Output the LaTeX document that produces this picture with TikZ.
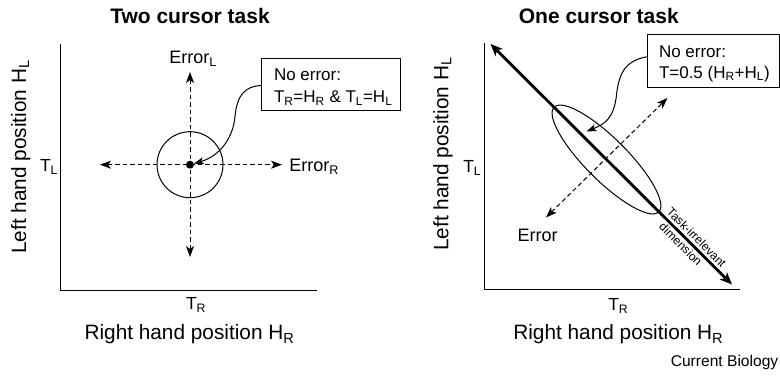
\documentclass[tikz,border=0pt]{standalone}
\usepackage{fontspec}
\setmainfont{Liberation Sans}
\usetikzlibrary{arrows.meta}
\begin{document}
\begin{tikzpicture}[x=1pt,y=-1pt,
  every node/.style={inner sep=0pt, outer sep=0pt},
  titletxt/.style={font=\fontsize{21}{25}\selectfont\bfseries},
  axlab/.style={font=\fontsize{20.8}{25}\selectfont},
  tlab/.style={font=\fontsize{17.5}{21}\selectfont},
  errlab/.style={font=\fontsize{18}{21}\selectfont},
  boxtxt/.style={font=\fontsize{17}{20}\selectfont},
  smalltxt/.style={font=\fontsize{12}{14}\selectfont},
  credit/.style={font=\fontsize{15.6}{18}\selectfont},
  axisline/.style={line width=1.3pt},
  boxstyle/.style={draw, line width=1pt},
  dasharrow/.style={line width=1pt, dash pattern=on 4.5pt off 3pt,
    {Stealth[length=11pt,width=8pt,inset=3pt]}-{Stealth[length=11pt,width=8pt,inset=3pt]}},
  thickarrow/.style={line width=2.8pt,
    {Stealth[length=12pt,width=10pt,inset=3pt]}-{Stealth[length=12pt,width=10pt,inset=3pt]}},
  curvearrow/.style={line width=1pt, -{Stealth[length=10pt,width=7pt,inset=2.5pt]}},
]
\useasboundingbox (0,0) rectangle (780,382);

% ---------- left panel ----------
\node[titletxt, anchor=base] (title1) at (190,24) {Two cursor task};
\coordinate (ytop1) at (60.7,44);
\coordinate (xend1) at (316.7,290.7);
\draw[axisline] (ytop1) |- (xend1);
\node[axlab, anchor=base] (xlab1) at (189.5,340) {Right hand position H\textsubscript{R}};
\node[axlab, anchor=base, rotate=90] (ylab1) at (26,157) {Left hand position H\textsubscript{L}};
\node[tlab, anchor=base west] (TR1) at (186,310) {T\textsubscript{R}};
\node[tlab, anchor=base west] (TL1) at (40,171.7) {T\textsubscript{L}};

\node[circle, fill, minimum size=8pt] (dot) at (190,164.7) {};
\draw[line width=1pt] (dot.center) circle[radius=33pt];
\coordinate (vtop) at (190,72);
\coordinate (vbot) at (190,257);
\coordinate (hleft) at (100,164.7);
\coordinate (hright) at (282,164.7);
\draw[dasharrow] (vbot) -- (vtop);
\draw[dasharrow] (hleft) -- (hright);
\node[errlab, anchor=base west] (errL) at (169.3,63.3) {Error\textsubscript{L}};
\node[errlab, anchor=base west] (errR) at (289.3,171.7) {Error\textsubscript{R}};

\node[boxstyle, anchor=north west, minimum width=139pt, minimum height=52.4pt] (box1) at (261.7,58.3) {};
\node[boxtxt, anchor=base west] (b1l1) at (274,80.7) {No error:};
\node[boxtxt, anchor=base west] (b1l2) at (274,102.7) {T\textsubscript{R}=H\textsubscript{R} \& T\textsubscript{L}=H\textsubscript{L}};
\draw[curvearrow] ([yshift=-1pt]box1.west) .. controls (245,86) and (237,95) .. (235,116.7)
  .. controls (233,138) and (220,156) .. (dot);

% ---------- right panel ----------
\node[titletxt, anchor=base] (title2) at (598.8,24) {One cursor task};
\coordinate (ytop2) at (484.3,42.7);
\coordinate (xend2) at (740,289.3);
\draw[axisline] (ytop2) |- (xend2);
\node[axlab, anchor=base] (xlab2) at (618.3,340) {Right hand position H\textsubscript{R}};
\node[axlab, anchor=base, rotate=90] (ylab2) at (448.3,154) {Left hand position H\textsubscript{L}};
\node[tlab, anchor=base west] (TR2) at (608.3,311) {T\textsubscript{R}};
\node[tlab, anchor=base west] (TL2) at (463.3,172.7) {T\textsubscript{L}};

\coordinate (ctr) at (606.5,159.5);
\draw[line width=1pt, rotate around={-45:(ctr)}] (ctr) ellipse [x radius=74pt, y radius=21pt];
\coordinate (ta) at (490.5,44);
\coordinate (tb) at (732,284.5);
\draw[thickarrow] (ta) -- (tb);
\coordinate (da) at (546,217.5);
\coordinate (db) at (667.5,98);
\draw[dasharrow] (da) -- (db);
\node[errlab, anchor=base west] (err2) at (517.7,241.7) {Error};

\node[boxstyle, anchor=north west, minimum width=131.3pt, minimum height=52.3pt] (box2) at (647.7,35) {};
\node[boxtxt, anchor=base west] (b2l1) at (659,57.3) {No error:};
\node[boxtxt, anchor=base west] (b2l2) at (659,78.3) {T=0.5 (H\textsubscript{R}+H\textsubscript{L})};
\coordinate (arr2) at (586.5,131.5);
\draw[curvearrow] ([yshift=4.5pt]box2.west) .. controls (628,60) and (619,70) .. (616.5,95)
  .. controls (614,118) and (605,124) .. (arr2);

\node[smalltxt, rotate=-45] (tir) at (696.7,237.5) {Task-irrelevant};
\node[smalltxt, rotate=-45] (dim) at (680.8,244.2) {dimension};

\node[credit, anchor=base east] (cb) at (778.3,366.7) {Current Biology};
\end{tikzpicture}
\end{document}
